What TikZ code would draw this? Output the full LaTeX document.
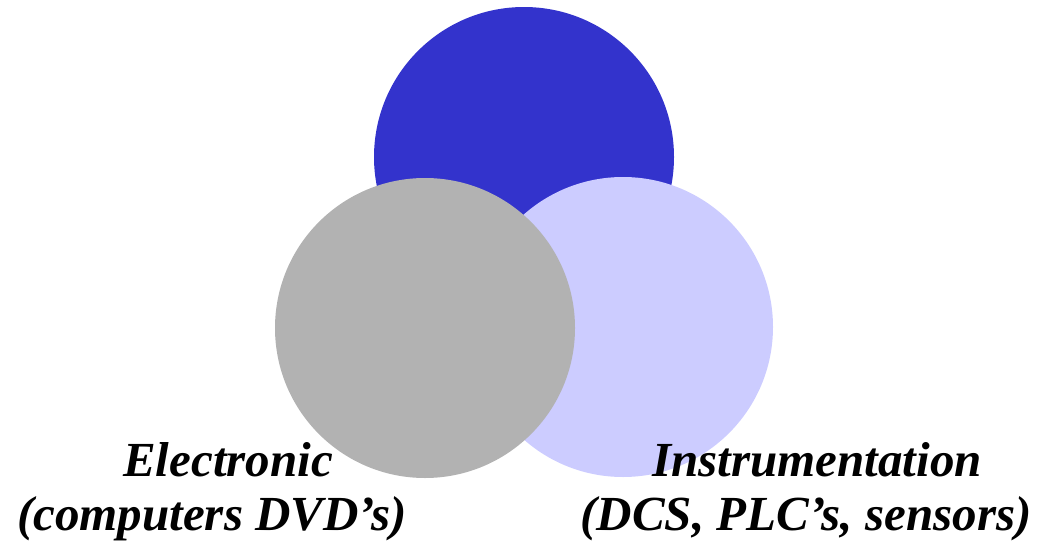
\documentclass[tikz,border=0pt]{standalone}
\usepackage{fontspec}
\setmainfont{Liberation Serif}
\definecolor{topblue}{HTML}{3333CC}
\definecolor{lavender}{HTML}{CCCCFF}
\definecolor{midgray}{HTML}{B2B2B2}
\begin{document}
\begin{tikzpicture}[x=1pt,y=-1pt,
  disc/.style={circle,minimum size=300pt,inner sep=0pt,draw=none},
  lbl/.style={anchor=base,inner sep=0pt,font=\fontsize{49}{58}\selectfont\bfseries\itshape}]
\useasboundingbox (0,0) rectangle (1039,541);
\node[disc,fill=topblue] (top) at (524,157) {};
\node[disc,fill=lavender] (instr) at (623,327) {};
\node[disc,fill=midgray] (elec) at (425,328) {};
\node[lbl] (e1) at (228,476) {Electronic};
\node[lbl] (e2) at (212,530) {(computers DVD’s)};
\node[lbl] (i1) at (817,476) {Instrumentation};
\node[lbl] (i2) at (806,530) {(DCS, PLC’s, sensors)};
\end{tikzpicture}
\end{document}
